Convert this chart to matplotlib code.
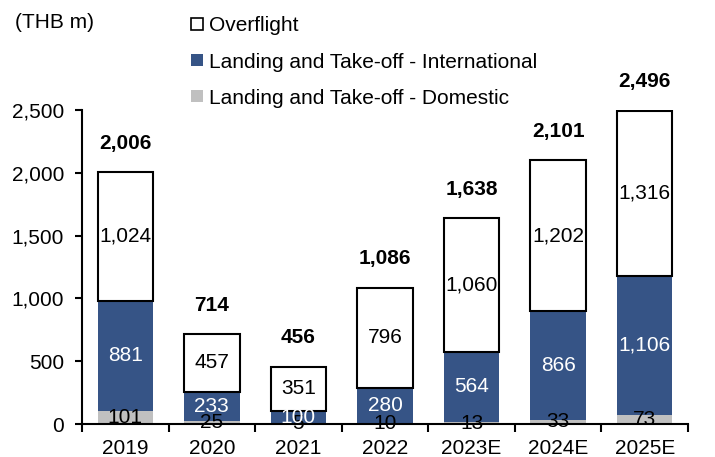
import numpy as np
import matplotlib.pyplot as plt
from matplotlib.patches import Patch

plt.rcParams['font.family'] = ['Liberation Sans', 'DejaVu Sans']

years = ['2019', '2020', '2021', '2022', '2023E', '2024E', '2025E']
domestic = [101, 25, 5, 10, 13, 33, 73]
international = [881, 233, 100, 280, 564, 866, 1106]
overflight = [1024, 457, 351, 796, 1060, 1202, 1316]
totals = [2006, 714, 456, 1086, 1638, 2101, 2496]

blue = '#365486'
grey = '#c0c0c0'
fs = 15

fig = plt.figure(figsize=(7.15, 4.57), dpi=100)
ax = fig.add_axes([82/715, 1-424/457, (688-82)/715, (424-110)/457])

x = np.arange(len(years))
w = 0.64
dom = np.array(domestic)
intl = np.array(international)
ovf = np.array(overflight)

ax.bar(x, dom, w, color=grey, zorder=2)
ax.bar(x, intl, w, bottom=dom, color=blue, zorder=2)
ax.bar(x, ovf, w, bottom=dom + intl, color='white', edgecolor='black',
       linewidth=1.5, zorder=2)

for i in range(len(years)):
    ax.text(x[i], dom[i] / 2, f'{dom[i]:,}', ha='center', va='center',
            fontsize=fs, color='black', zorder=3)
    ax.text(x[i], dom[i] + intl[i] / 2, f'{intl[i]:,}', ha='center', va='center',
            fontsize=fs, color='white', zorder=3)
    ax.text(x[i], dom[i] + intl[i] + ovf[i] / 2, f'{ovf[i]:,}', ha='center',
            va='center', fontsize=fs, color='black', zorder=3)
    top = dom[i] + intl[i] + ovf[i]
    ax.annotate(f'{totals[i]:,}', (x[i], top), xytext=(0, 14),
                textcoords='offset points', ha='center', va='bottom',
                fontsize=fs, fontweight='bold', annotation_clip=False)

ax.set_xlim(-0.5, len(years) - 0.5)
ax.set_ylim(0, 2500)
ax.set_yticks([0, 500, 1000, 1500, 2000, 2500])
ax.set_yticklabels(['0', '500', '1,000', '1,500', '2,000', '2,500'], fontsize=fs)
ax.tick_params(axis='y', direction='out', length=5, width=1.5, pad=8)

ax.set_xticks(np.arange(len(years) + 1) - 0.5)
ax.set_xticklabels([])
ax.tick_params(axis='x', which='major', direction='out', length=6, width=1.5)
ax.set_xticks(x, minor=True)
ax.set_xticklabels(years, minor=True, fontsize=fs)
ax.tick_params(axis='x', which='minor', length=0, pad=11)

for s in ['top', 'right']:
    ax.spines[s].set_visible(False)
for s in ['left', 'bottom']:
    ax.spines[s].set_linewidth(1.5)

fig.text(15/715, 1-22/457, '(THB m)', fontsize=fs, va='center', ha='left')

handles = [Patch(facecolor='white', edgecolor='black', linewidth=1.2),
           Patch(facecolor=blue), Patch(facecolor=grey)]
labels = ['Overflight', 'Landing and Take-off - International',
          'Landing and Take-off - Domestic']
fig.legend(handles, labels, loc='upper left', bbox_to_anchor=(181/715, 1-6/457),
           frameon=False, fontsize=fs, handlelength=0.55, handleheight=0.55,
           handletextpad=0.3, labelspacing=0.82, borderpad=0)

fig.savefig('out.png', dpi=100)
